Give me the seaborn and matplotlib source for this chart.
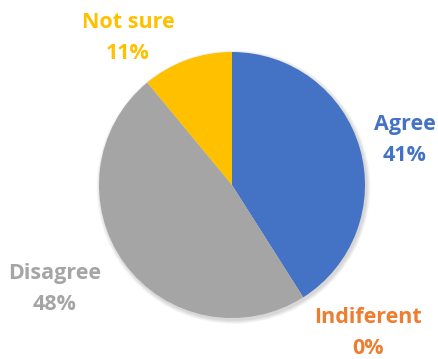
import matplotlib
matplotlib.use("Agg")
import matplotlib.pyplot as plt
import seaborn as sns
import numpy as np
from matplotlib.patches import Circle

categories = ["Agree", "Indiferent", "Disagree", "Not sure"]
shares = [41, 0, 48, 11]
colors = ["#4472C4", "#ED7D31", "#A5A5A5", "#FFC000"]

sns.set_theme(style="white")
plt.rcParams["font.family"] = ["Open Sans", "DejaVu Sans"]

W, H = 439, 359
fig = plt.figure(figsize=(W / 100, H / 100), dpi=100)
ax = fig.add_axes([0, 0, 1, 1])

cx, cy, r = 232, H - 185, 133

# soft drop shadow under the pie
for i in range(8):
    ax.add_patch(Circle((cx + 1.5, cy - 2), r + 4 - i * 0.5, color="black",
                        alpha=0.018, lw=0, zorder=0))

palette = sns.color_palette(colors)
wedges, _ = ax.pie(shares, colors=palette, startangle=90, counterclock=False,
                   center=(cx, cy), radius=r, frame=True,
                   wedgeprops=dict(linewidth=0))
ax.set_xlim(0, W)
ax.set_ylim(0, H)
ax.set_aspect("equal")
ax.axis("off")

# label anchor points (pixel coordinates, top-left origin)
label_pos = [(405, 140), (368, 333), (55, 289), (128, 38)]
for name, val, col, (px, py) in zip(categories, shares, colors, label_pos):
    ax.text(px, H - py, f"{name}\n{val}%", color=col, fontsize=15.5,
            fontweight="bold", ha="center", va="center", linespacing=1.68)

fig.savefig("out.png", dpi=100)
